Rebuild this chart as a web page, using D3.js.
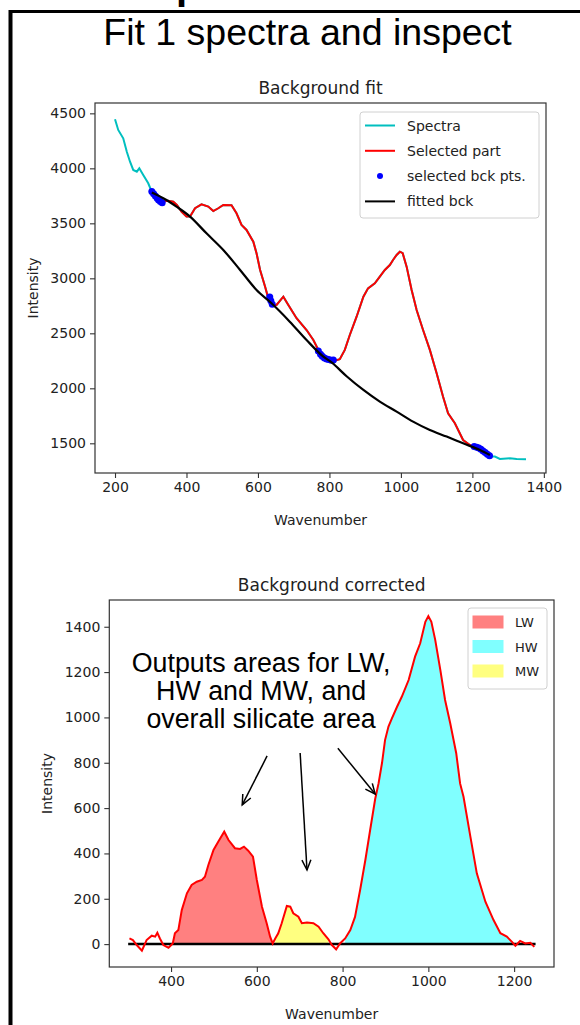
<!DOCTYPE html>
<html>
<head>
<meta charset="utf-8">
<script src="https://cdn.jsdelivr.net/npm/d3@7"></script>
<style>
  body { margin: 0; background: #fff; }
  svg { display: block; }
</style>
</head>
<body>
<div class="viz"></div>
<script>
// raw spectrum [wavenumber, intensity]
const spectra = [
  [200,4446],[209,4349],[223,4273],[233,4151],[242,4060],[251,3985],[261,3970],[268,4000],
  [279,3940],[293,3864],[303,3785],[317,3728],[331,3697],[349,3706],[363,3697],[373,3667],
  [386,3606],[400,3561],[410,3561],[424,3637],[442,3673],[461,3652],[475,3612],[489,3637],
  [503,3667],[526,3664],[540,3591],[554,3485],[568,3440],[587,3333],[596,3228],[606,3076],
  [620,2924],[629,2818],[634,2833],[638,2758],[652,2758],[671,2833],[685,2758],[708,2637],
  [736,2530],[755,2439],[769,2349],[783,2288],[806,2242],[829,2264],[843,2349],[857,2485],
  [876,2651],[895,2833],[908,2909],[927,2955],[941,3015],[955,3076],[969,3121],[978,3167],
  [988,3212],[997,3242],[1005,3228],[1016,3106],[1030,2894],[1044,2712],[1062,2530],[1081,2349],
  [1100,2137],[1118,1924],[1132,1773],[1151,1682],[1174,1530],[1193,1485],[1212,1455],[1230,1424],
  [1249,1379],[1263,1379],[1277,1358],[1305,1364],[1324,1358],[1350,1355]
];
const selectedRange = [303, 1249];

// selected background points
const bckPts = [
  [303,3790],[308,3768],[313,3748],[318,3728],[322,3712],[327,3698],[332,3688],
  [633,2830],[636,2795],[640,2765],
  [769,2340],[775,2310],[780,2292],[786,2275],[792,2266],[798,2262],[805,2256],[811,2258],
  [1205,1470],[1212,1465],[1218,1458],[1224,1446],[1230,1430],[1236,1416],[1242,1400],[1248,1386]
];

// fitted background
const bckFit = [
  [303,3780],[344,3712],[372,3652],[410,3561],[456,3409],[503,3258],[550,3076],[596,2894],
  [638,2773],[689,2606],[736,2439],[783,2288],[806,2235],[848,2110],[895,1985],[941,1879],
  [988,1788],[1034,1697],[1081,1621],[1128,1561],[1174,1500],[1221,1439],[1249,1394]
];

// background corrected spectrum
const corrected = [
  [303,25],[311,18],[320,-4],[332,-29],[343,18],[355,37],[363,33],[368,50],[374,25],[382,-4],
  [394,-16],[404,3],[409,48],[417,62],[425,150],[437,224],[448,261],[460,275],[472,283],[479,297],
  [487,349],[499,415],[510,452],[524,496],[534,459],[549,423],[561,420],[570,430],[580,412],[591,386],
  [600,283],[612,165],[623,92],[631,33],[637,3],[643,25],[650,48],[658,92],[670,168],[678,165],
  [685,136],[697,121],[705,92],[717,95],[732,92],[744,77],[755,48],[767,21],[775,-4],[785,-23],
  [794,3],[806,25],[818,62],[829,120],[841,240],[853,370],[864,500],[876,640],[884,710],[892,800],
  [899,900],[907,960],[915,996],[927,1047],[938,1091],[954,1165],[969,1268],[981,1327],[993,1422],[1000,1447],
  [1007,1422],[1016,1342],[1028,1209],[1039,1077],[1051,974],[1065,842],[1074,709],[1082,650],
  [1098,474],[1113,312],[1133,187],[1152,106],[1168,48],[1183,33],[1195,10],[1203,-7],[1214,14],
  [1226,3],[1238,6],[1247,-12]
];

// integration windows
const regionNames = ["LW", "HW", "MW"];
const regionRanges = [[404, 637], [800, 1197], [643, 770]];
const regionColors = ["#ff8080", "#80ffff", "#ffff80"];

const topXTicks = [200, 400, 600, 800, 1000, 1200, 1400];
const topYTicks = [1500, 2000, 2500, 3000, 3500, 4000, 4500];
const botXTicks = [400, 600, 800, 1000, 1200];
const botYTicks = [0, 200, 400, 600, 800, 1000, 1200, 1400];

const width = 580, height = 1025;
const FONT = "'DejaVu Sans', sans-serif";
const ARIAL = "'Liberation Sans', Arial, sans-serif";

const svg = d3.select(".viz")
  .append("svg")
  .attr("width", width)
  .attr("height", height);

// slide frame
svg.append("text")
  .attr("x", 176).attr("y", -1)
  .style("font-family", ARIAL).style("font-size", "40px").style("font-weight", "bold")
  .text("p");
svg.append("line").attr("x1", 9).attr("x2", 580).attr("y1", 11.5).attr("y2", 11.5)
  .attr("stroke", "#000").attr("stroke-width", 3);
svg.append("line").attr("x1", 10.5).attr("x2", 10.5).attr("y1", 10).attr("y2", 1025)
  .attr("stroke", "#000").attr("stroke-width", 4);

svg.append("text")
  .attr("x", 307.5).attr("y", 45)
  .attr("text-anchor", "middle")
  .style("font-family", ARIAL).style("font-size", "37.5px")
  .text("Fit 1 spectra and inspect");

function drawAxes(g, x, y, xt, yt, box, title) {
  g.append("g")
    .attr("transform", `translate(0,${box.b})`)
    .call(d3.axisBottom(x).tickValues(xt).tickFormat(d3.format("d")).tickSize(5).tickPadding(4))
    .call(a => a.select(".domain").remove());
  g.append("g")
    .attr("transform", `translate(${box.l},0)`)
    .call(d3.axisLeft(y).tickValues(yt).tickFormat(d3.format("d")).tickSize(5).tickPadding(4))
    .call(a => a.select(".domain").remove());
  g.selectAll(".tick line").attr("stroke", "#333").attr("stroke-width", 1.1);
  g.selectAll(".tick text").attr("fill", "#222")
    .style("font-family", FONT).style("font-size", "14px");
  g.append("rect")
    .attr("x", box.l).attr("y", box.t)
    .attr("width", box.r - box.l).attr("height", box.b - box.t)
    .attr("fill", "none").attr("stroke", "#333").attr("stroke-width", 1.2);
  g.append("text")
    .attr("x", (box.l + box.r) / 2).attr("y", box.t - 9)
    .attr("text-anchor", "middle").attr("fill", "#222")
    .style("font-family", FONT).style("font-size", "17px")
    .text(title);
  g.append("text")
    .attr("x", (box.l + box.r) / 2).attr("y", box.b + 52)
    .attr("text-anchor", "middle").attr("fill", "#222")
    .style("font-family", FONT).style("font-size", "14px")
    .text("Wavenumber");
}

// ---------- top: background fit ----------
const topBox = { l: 95, r: 546, t: 103, b: 473 };
const x1 = d3.scaleLinear().domain([144, 1406]).range([topBox.l, topBox.r]);
const y1 = d3.scaleLinear().domain([1230, 4594]).range([topBox.b, topBox.t]);
const gTop = svg.append("g");

const line1 = d3.line().x(d => x1(d[0])).y(d => y1(d[1]));

gTop.append("path").datum(spectra)
  .attr("d", line1).attr("fill", "none")
  .attr("stroke", "#00bfbf").attr("stroke-width", 2);
gTop.append("path")
  .datum(spectra.filter(d => d[0] >= selectedRange[0] && d[0] <= selectedRange[1]))
  .attr("d", line1).attr("fill", "none")
  .attr("stroke", "#ff0000").attr("stroke-width", 2);
gTop.selectAll(".bck").data(bckPts).enter().append("circle")
  .attr("class", "bck")
  .attr("cx", d => x1(d[0])).attr("cy", d => y1(d[1])).attr("r", 3.5)
  .attr("fill", "#0000ff");
gTop.append("path").datum(bckFit)
  .attr("d", line1.curve(d3.curveMonotoneX)).attr("fill", "none")
  .attr("stroke", "#000").attr("stroke-width", 2.2);

drawAxes(gTop, x1, y1, topXTicks, topYTicks, topBox, "Background fit");
gTop.append("text")
  .attr("transform", `translate(38,${(topBox.t + topBox.b) / 2}) rotate(-90)`)
  .attr("text-anchor", "middle").attr("fill", "#222")
  .style("font-family", FONT).style("font-size", "14px")
  .text("Intensity");

// legend top
const legTop = gTop.append("g").attr("transform", "translate(360,112)");
legTop.append("rect").attr("width", 179).attr("height", 106).attr("rx", 3)
  .attr("fill", "#fff").attr("fill-opacity", 0.8)
  .attr("stroke", "#d0d0d0");
const legItems = [
  { label: "Spectra", color: "#00bfbf", type: "line" },
  { label: "Selected part", color: "#ff0000", type: "line" },
  { label: "selected bck pts.", color: "#0000ff", type: "dot" },
  { label: "fitted bck", color: "#000", type: "line" }
];
legItems.forEach((it, i) => {
  const yy = 13.5 + i * 25.3;
  if (it.type === "line") {
    legTop.append("line").attr("x1", 5).attr("x2", 35).attr("y1", yy).attr("y2", yy)
      .attr("stroke", it.color).attr("stroke-width", 2);
  } else {
    legTop.append("circle").attr("cx", 20).attr("cy", yy).attr("r", 3).attr("fill", it.color);
  }
  legTop.append("text").attr("x", 47).attr("y", yy + 5)
    .attr("fill", "#222")
    .style("font-family", FONT).style("font-size", "14px")
    .text(it.label);
});

// ---------- bottom: background corrected ----------
const botBox = { l: 109.3, r: 554, t: 600, b: 967 };
const x2 = d3.scaleLinear().domain([256, 1293]).range([botBox.l, botBox.r]);
const y2 = d3.scaleLinear().domain([-101, 1518]).range([botBox.b, botBox.t]);
const gBot = svg.append("g");

const area2 = d3.area()
  .x(d => x2(d[0])).y0(y2(0)).y1(d => y2(Math.max(0, d[1])));

regionRanges.forEach((rg, i) => {
  gBot.append("path")
    .datum(corrected.filter(d => d[0] >= rg[0] && d[0] <= rg[1]))
    .attr("d", area2)
    .attr("fill", regionColors[i]);
});

gBot.append("line")
  .attr("x1", x2(300)).attr("x2", x2(1250))
  .attr("y1", y2(0)).attr("y2", y2(0))
  .attr("stroke", "#000").attr("stroke-width", 2.5);

gBot.append("path").datum(corrected)
  .attr("d", d3.line().x(d => x2(d[0])).y(d => y2(d[1])))
  .attr("fill", "none").attr("stroke", "#ff0000").attr("stroke-width", 2);

drawAxes(gBot, x2, y2, botXTicks, botYTicks, botBox, "Background corrected");
gBot.append("text")
  .attr("transform", `translate(52,${(botBox.t + botBox.b) / 2}) rotate(-90)`)
  .attr("text-anchor", "middle").attr("fill", "#222")
  .style("font-family", FONT).style("font-size", "14px")
  .text("Intensity");

// legend bottom
const legBot = gBot.append("g").attr("transform", "translate(468,608)");
legBot.append("rect").attr("width", 79).attr("height", 81).attr("rx", 3)
  .attr("fill", "#fff").attr("fill-opacity", 0.8)
  .attr("stroke", "#d0d0d0");
regionNames.forEach((nm, i) => {
  const yy = 14 + i * 24.5;
  legBot.append("rect").attr("x", 5).attr("y", yy - 6).attr("width", 30).attr("height", 12)
    .attr("fill", regionColors[i]).attr("stroke", regionColors[i]);
  legBot.append("text").attr("x", 47).attr("y", yy + 5)
    .attr("fill", "#222")
    .style("font-family", FONT).style("font-size", "13px")
    .text(nm);
});

// annotation
const noteLines = ["Outputs areas for LW,", "HW and MW, and", "overall silicate area"];
gBot.selectAll(".note").data(noteLines).enter().append("text")
  .attr("class", "note")
  .attr("x", x2(610))
  .attr("y", (d, i) => y2(1200) + i * 28)
  .attr("text-anchor", "middle")
  .style("font-family", ARIAL).style("font-size", "26.8px")
  .text(d => d);

const arrows = [
  { from: [624, 830], to: [566, 614] },
  { from: [701, 843], to: [717, 327] },
  { from: [789, 864], to: [876, 662] }
];
arrows.forEach(a => {
  const xa = x2(a.from[0]), ya = y2(a.from[1]);
  const xb = x2(a.to[0]), yb = y2(a.to[1]);
  const ang = Math.atan2(yb - ya, xb - xa);
  const hl = 11, hw = 0.42;
  gBot.append("line").attr("x1", xa).attr("y1", ya).attr("x2", xb).attr("y2", yb)
    .attr("stroke", "#000").attr("stroke-width", 1.5);
  gBot.append("path")
    .attr("d", `M${xb - hl * Math.cos(ang - hw)},${yb - hl * Math.sin(ang - hw)}L${xb},${yb}L${xb - hl * Math.cos(ang + hw)},${yb - hl * Math.sin(ang + hw)}`)
    .attr("fill", "none").attr("stroke", "#000").attr("stroke-width", 1.5);
});
</script>
</body>
</html>
